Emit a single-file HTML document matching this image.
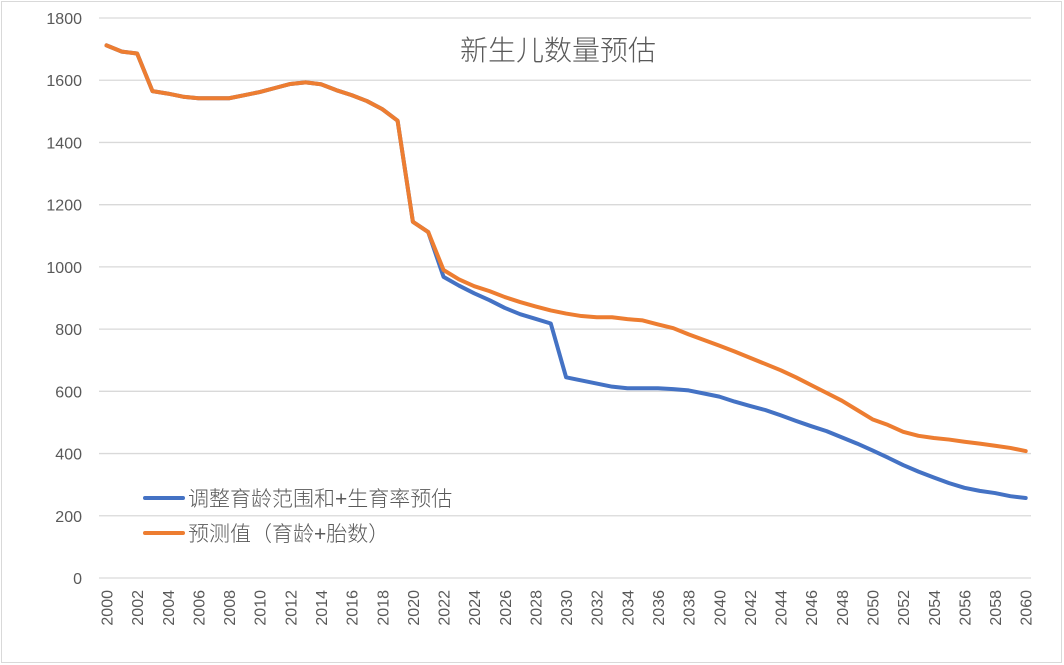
<!DOCTYPE html>
<html><head><meta charset="utf-8"><style>
body{margin:0;background:#fff;}
svg{display:block;font-family:"Liberation Sans","Noto Sans CJK SC",sans-serif;}
</style></head><body>
<svg id="chart" width="1064" height="665">
<rect x="1.5" y="1.5" width="1060" height="661" fill="#fff" stroke="#d9d9d9"/>
<text x="558" y="60" font-size="28" font-weight="300" fill="#595959" text-anchor="middle">新生儿数量预估</text>
<g id="grid"></g><g id="ylab"></g><g id="xlab"></g><g id="series"></g>
<g>
<line x1="145" y1="498" x2="183" y2="498" stroke="#4472c4" stroke-width="4" stroke-linecap="round"/>
<text x="188" y="506" font-size="21" font-weight="300" fill="#595959">调整育龄范围和+生育率预估</text>
<line x1="145" y1="533" x2="183" y2="533" stroke="#ed7d31" stroke-width="4" stroke-linecap="round"/>
<text x="188" y="541" font-size="21" font-weight="300" fill="#595959">预测值（育龄+胎数）</text>
</g>
</svg>
<script>
const years=[];for(let y=2000;y<=2060;y++)years.push(y);
const yTicks=[0,200,400,600,800,1000,1200,1400,1600,1800];
const orange=[1712,1692,1686,1565,1557,1547,1542,1542,1542,1552,1562,1575,1588,1593,1587,1568,1552,1533,1507,1470,1145,1112,990,960,938,922,903,887,873,860,850,842,838,838,832,828,815,803,783,765,747,728,708,688,668,645,620,595,570,540,510,492,470,457,450,445,438,432,425,418,408];
const blue=[1712,1692,1686,1565,1557,1547,1542,1542,1542,1552,1562,1575,1588,1593,1587,1568,1552,1533,1507,1470,1145,1112,968,940,915,893,868,848,833,818,645,635,625,615,610,610,610,607,603,593,583,567,553,540,523,505,488,472,452,432,410,387,363,342,323,305,290,280,273,263,257];
const NS="http://www.w3.org/2000/svg";
const X=y=>106.5+(y-2000)*15.32, Y=v=>578-v*560/1800;
function mk(t,a,p){const e=document.createElementNS(NS,t);for(const k in a)e.setAttribute(k,a[k]);p.appendChild(e);return e;}
const g=document.getElementById('grid'),yl=document.getElementById('ylab'),xl=document.getElementById('xlab'),s=document.getElementById('series');
yTicks.forEach(v=>{
 const l=mk('line',{x1:99,x2:1031,y1:Y(v),y2:Y(v),stroke:'#d9d9d9','stroke-width':1.3},g);
 
 
 const t=mk('text',{x:82,y:Y(v)+6,'font-size':16,fill:'#595959','text-anchor':'end'},yl);t.textContent=v;
 
 
});
years.forEach(y=>{if((y-2000)%2)return;
 const t=mk('text',{x:0,y:0,'font-size':16,fill:'#595959','text-anchor':'end',transform:`translate(${X(y)+6},590) rotate(-90)`},xl);t.textContent=y;
 
 
});
[[blue,'#4472c4','series-blue'],[orange,'#ed7d31','series-orange']].forEach(([d,c,n])=>{
 const p=mk('polyline',{points:d.map((v,i)=>X(years[i])+','+Y(v)).join(' '),fill:'none',stroke:c,'stroke-width':4,'stroke-linejoin':'round','stroke-linecap':'round'},s);
 
 
});
</script>
</body></html>
